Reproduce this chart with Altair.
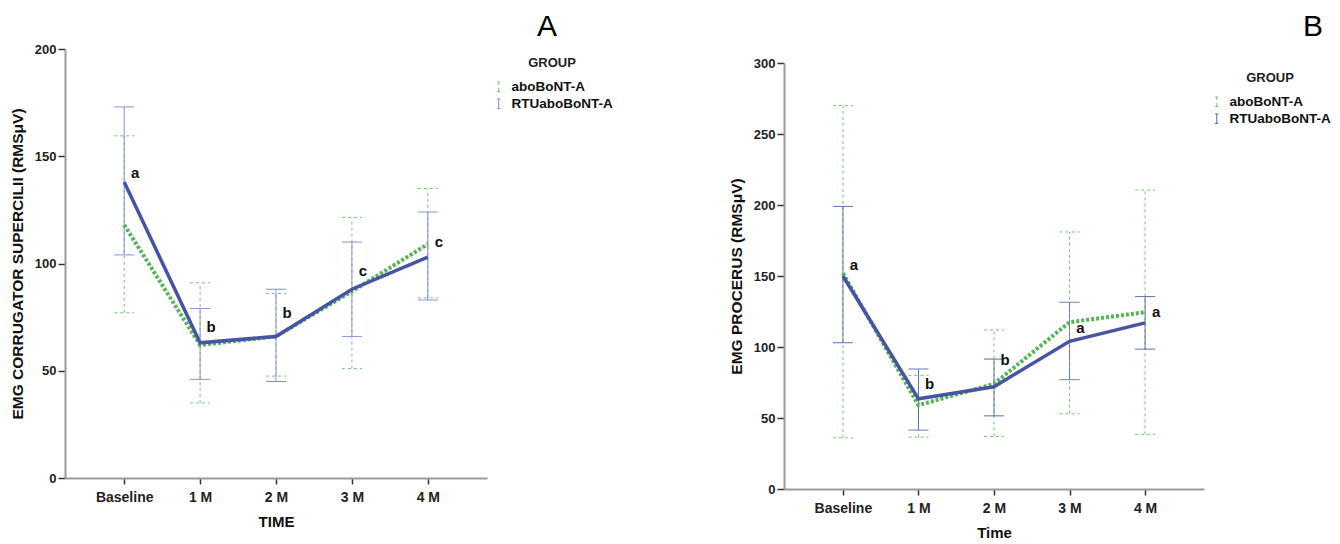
import altair as alt
import pandas as pd

times = ["Baseline", "1 M", "2 M", "3 M", "4 M"]
groups = ["aboBoNT-A", "RTUaboBoNT-A"]

# Panel A: EMG corrugator supercilii
a_abo_mean = [118, 62, 66, 87, 109]
a_abo_lo = [77, 35, 47.5, 51, 84]
a_abo_hi = [159.5, 91, 86, 121.5, 135]
a_rtu_mean = [138, 63, 66, 88, 103]
a_rtu_lo = [104, 46, 45, 66, 83]
a_rtu_hi = [173, 79, 88, 110, 124]
a_letters = ["a", "b", "b", "c", "c"]
a_letter_y = [142, 70.5, 77, 96.5, 110]

# Panel B: EMG procerus
b_abo_mean = [152, 59, 74, 117.5, 124.5]
b_abo_lo = [36, 36.5, 37, 53, 38.5]
b_abo_hi = [270, 80, 112, 181, 210.5]
b_rtu_mean = [150, 63.5, 72, 104, 117]
b_rtu_lo = [103, 41.5, 51.5, 77, 98.5]
b_rtu_hi = [199, 84.5, 91.5, 131.5, 135.5]
b_letters = ["a", "b", "b", "a", "a"]
b_letter_y = [157.5, 74, 91, 113.5, 124.5]

GREEN_LINE = "#55b455"
GREEN_BAR = "#74c474"
BLUE_LINE = "#4754a3"
SANS = "Liberation Sans, Arial"
SYMBOL = "M-0.35,-1H0.35M0,-1V1M-0.35,1H0.35"


def panel(abo_mean, abo_lo, abo_hi, rtu_mean, rtu_lo, rtu_hi, letters, letter_y,
          ymax, ytitle, xtitle, bar_blue, title, title_x, title_y,
          legend_x, legend_y, width, height, yrange):
    rows = []
    for g, m, lo, hi in [(groups[0], abo_mean, abo_lo, abo_hi),
                         (groups[1], rtu_mean, rtu_lo, rtu_hi)]:
        for t, mm, l, h in zip(times, m, lo, hi):
            rows.append(dict(time=t, group=g, mean=mm, lo=l, hi=h))
    df = pd.DataFrame(rows)
    ldf = pd.DataFrame(dict(time=times, label=letters, ly=letter_y))

    xaxis = alt.Axis(title=xtitle, labelAngle=0, domainColor="#9a9a9a", domainWidth=2,
                     tickColor="#333333", tickSize=6, tickWidth=1.5,
                     labelFont=SANS, labelFontSize=14, labelFontWeight="bold",
                     labelColor="#222222", labelPadding=6,
                     titleFont=SANS, titleFontSize=15, titleFontWeight="bold",
                     titleColor="#111111", titlePadding=10, grid=False)
    yaxis = alt.Axis(title=ytitle, values=list(range(0, ymax + 1, 50)),
                     domainColor="#9a9a9a", domainWidth=2,
                     tickColor="#333333", tickSize=7, tickWidth=1.5,
                     labelFont=SANS, labelFontSize=13, labelFontWeight="bold",
                     labelColor="#222222", labelPadding=2,
                     titleFont=SANS, titleFontSize=15.5, titleFontWeight="bold",
                     titleColor="#111111", titlePadding=9, grid=False)
    xs = alt.Scale(type="point", padding=0.78)
    ys = alt.Scale(domain=[0, ymax], nice=False, range=yrange)
    X = alt.X("time:N", sort=times, scale=xs, axis=xaxis)
    legend = alt.Legend(title="GROUP", orient="none", legendX=legend_x, legendY=legend_y,
                        symbolType=SYMBOL, symbolSize=90, symbolStrokeWidth=1,
                        titleFont=SANS, titleFontSize=13, titleFontWeight="bold",
                        titleColor="#222222", titleAnchor="middle", titlePadding=10,
                        labelFont=SANS, labelFontSize=13.5, labelFontWeight="bold",
                        labelColor="#111111", rowPadding=2, labelOffset=6)
    color = alt.Color("group:N", scale=alt.Scale(domain=groups, range=[GREEN_BAR, bar_blue]),
                      legend=legend)
    dash = alt.StrokeDash("group:N", scale=alt.Scale(domain=groups, range=[[3, 3], [1, 0]]),
                          legend=legend)

    bars = alt.Chart(df).mark_rule(strokeWidth=1).encode(
        x=X, y=alt.Y("lo:Q", scale=ys, axis=yaxis), y2="hi:Q",
        color=color, strokeDash=dash)
    caps = alt.Chart(df).transform_fold(["lo", "hi"], as_=["end", "val"]).mark_rule(
        strokeWidth=1, xOffset=-10, x2Offset=10).encode(
        x=X, x2="time:N", y=alt.Y("val:Q", scale=ys, axis=yaxis),
        color=alt.Color("group:N", scale=alt.Scale(domain=groups, range=[GREEN_BAR, bar_blue]), legend=None),
        strokeDash=alt.StrokeDash("group:N", scale=alt.Scale(domain=groups, range=[[3, 3], [1, 0]]), legend=None))
    gline = alt.Chart(df).transform_filter(alt.datum.group == groups[0]).mark_line(
        color=GREEN_LINE, strokeWidth=4, strokeDash=[3, 2]).encode(
        x=X, y=alt.Y("mean:Q", scale=ys, axis=yaxis))
    bline = alt.Chart(df).transform_filter(alt.datum.group == groups[1]).mark_line(
        color=BLUE_LINE, strokeWidth=3.5).encode(
        x=X, y=alt.Y("mean:Q", scale=ys, axis=yaxis))
    lett = alt.Chart(ldf).mark_text(dx=11, font=SANS, fontSize=15, fontWeight="bold",
                                    color="#111111").encode(
        x=X, y=alt.Y("ly:Q", scale=ys, axis=yaxis), text="label:N")
    ttl = alt.Chart(pd.DataFrame({"t": [title]})).mark_text(
        font=SANS, fontSize=30, color="#000000").encode(
        text="t:N", x=alt.value(title_x), y=alt.value(title_y))
    return alt.layer(bars, caps, gline, bline, lett, ttl).properties(width=width, height=height)


pa = panel(a_abo_mean, a_abo_lo, a_abo_hi, a_rtu_mean, a_rtu_lo, a_rtu_hi, a_letters, a_letter_y,
           200, "EMG CORRUGATOR SUPERCILII (RMSμV)", "TIME", "#8088d8", "A", 482, -22,
           427, 8, 422, 429, [429, 0])
pb = panel(b_abo_mean, b_abo_lo, b_abo_hi, b_rtu_mean, b_rtu_lo, b_rtu_hi, b_letters, b_letter_y,
           300, "EMG PROCERUS (RMSμV)", "Time", "#5468a8", "B", 529, -22,
           426, 23, 420, 440, [440, 14])

chart = alt.hconcat(pa, pb, spacing=116).resolve_scale(
    color="independent", strokeDash="independent", x="independent", y="independent"
).resolve_legend(color="independent", strokeDash="independent").configure_view(
    stroke=None).properties(padding={"left": 2, "top": 4, "right": 0, "bottom": 0},
                            background="white")

chart.save("out.html", embed_options={"renderer": "svg", "actions": False})
